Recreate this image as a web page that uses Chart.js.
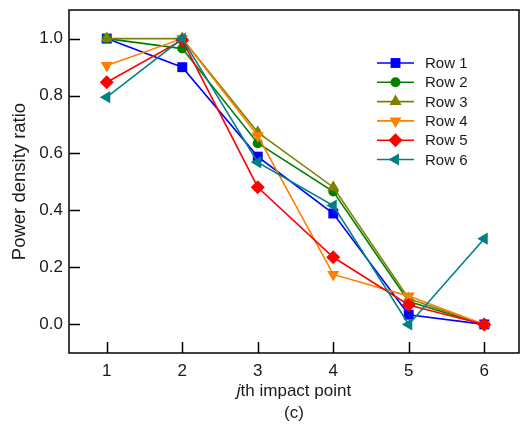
<!DOCTYPE html>
<html>
<head>
<meta charset="utf-8">
<script src="https://cdn.jsdelivr.net/npm/chart.js@4/dist/chart.umd.min.js"></script>
<style>
  html, body { margin: 0; padding: 0; background: #ffffff; }
  canvas { display: block; }
</style>
</head>
<body>
<canvas id="chart" width="521" height="434"></canvas>
<script>
// Impact point index along the x axis
const impactPoints = [1, 2, 3, 4, 5, 6];

// Power density ratio per row
const row1 = [1.000, 0.900, 0.587, 0.388, 0.034, 0.000];
const row2 = [1.000, 0.965, 0.634, 0.465, 0.080, 0.000];
const row3 = [1.000, 1.000, 0.672, 0.480, 0.090, 0.000];
const row4 = [0.906, 1.000, 0.660, 0.175, 0.099, 0.000];
const row5 = [0.847, 0.995, 0.480, 0.235, 0.068, 0.000];
const row6 = [0.795, 1.000, 0.567, 0.416, 0.000, 0.300];

const seriesNames = ['Row 1', 'Row 2', 'Row 3', 'Row 4', 'Row 5', 'Row 6'];
const seriesValues = [row1, row2, row3, row4, row5, row6];

// Tick labels
const xTickValues = [1, 2, 3, 4, 5, 6];
const yTickValues = [0.0, 0.2, 0.4, 0.6, 0.8, 1.0];

const xTitleItalic = 'j';
const xTitleRest = 'th impact point';
const yTitle = 'Power density ratio';
const panelLabel = '(c)';

// Styles
const colors = ['#0000ff', '#008000', '#808000', '#ff8000', '#ff0000', '#008080'];
const markers = [
  { style: 'rect', radius: 7, rotation: 0 },
  { style: 'circle', radius: 5, rotation: 0 },
  { style: 'triangle', radius: 7, rotation: 0 },
  { style: 'triangle', radius: 7, rotation: 180 },
  { style: 'rectRot', radius: 7, rotation: 0 },
  { style: 'triangle', radius: 7, rotation: 270 }
];

const FONT = '"Liberation Sans", Arial, Helvetica, sans-serif';
const INK = '#1a1a1a';

const datasets = seriesValues.map((vals, i) => ({
  label: seriesNames[i],
  data: impactPoints.map((x, k) => ({ x: x, y: vals[k] })),
  borderColor: colors[i],
  backgroundColor: colors[i],
  borderWidth: 1.6,
  pointStyle: markers[i].style,
  pointRadius: markers[i].radius,
  pointHoverRadius: markers[i].radius,
  pointRotation: markers[i].rotation,
  pointBorderWidth: 0,
  pointBackgroundColor: colors[i],
  tension: 0,
  fill: false,
  // later rows are painted over earlier ones
  order: seriesNames.length - i
}));

function clearScalePadding(s) {
  s.paddingLeft = 0;
  s.paddingRight = 0;
  s.paddingTop = 0;
  s.paddingBottom = 0;
}

// Frame, inward tick marks, axis titles and the legend
const decorations = {
  id: 'decorations',
  afterDatasetsDraw(chart) {
    const ctx = chart.ctx;
    const a = chart.chartArea;
    const xs = chart.scales.x;
    const ys = chart.scales.y;
    ctx.save();
    ctx.strokeStyle = '#000000';
    ctx.lineWidth = 1.5;
    ctx.strokeRect(a.left, a.top, a.right - a.left, a.bottom - a.top);

    const tickLen = 11;
    ctx.beginPath();
    xs.ticks.forEach(t => {
      const px = Math.round(xs.getPixelForValue(t.value)) + 0.5;
      ctx.moveTo(px, a.bottom);
      ctx.lineTo(px, a.bottom - tickLen);
    });
    ys.ticks.forEach(t => {
      const py = Math.round(ys.getPixelForValue(t.value)) + 0.5;
      ctx.moveTo(a.left, py);
      ctx.lineTo(a.left + tickLen, py);
    });
    ctx.stroke();

    // x title with an italic j
    ctx.fillStyle = INK;
    ctx.textBaseline = 'alphabetic';
    const italicFont = 'italic 17px ' + FONT;
    const normalFont = '17px ' + FONT;
    ctx.font = italicFont;
    const wJ = ctx.measureText(xTitleItalic).width;
    ctx.font = normalFont;
    const wRest = ctx.measureText(xTitleRest).width;
    const cx = (a.left + a.right) / 2;
    const startX = cx - (wJ + wRest) / 2;
    ctx.textAlign = 'left';
    ctx.font = italicFont;
    ctx.fillText(xTitleItalic, startX, 396);
    ctx.font = normalFont;
    ctx.fillText(xTitleRest, startX + wJ, 396);

    // panel label
    ctx.textAlign = 'center';
    ctx.fillText(panelLabel, cx, 418);

    // y title
    ctx.save();
    ctx.translate(25, (a.top + a.bottom) / 2);
    ctx.rotate(-Math.PI / 2);
    ctx.textAlign = 'center';
    ctx.font = '18.5px ' + FONT;
    ctx.fillText(yTitle, 0, 0);
    ctx.restore();

    // legend: line sample with marker, then the label
    const lx0 = 377, lx1 = 414, tx = 425, ly0 = 63, step = 19.3;
    chart.data.datasets.forEach((ds, i) => {
      const y = ly0 + i * step;
      ctx.strokeStyle = ds.borderColor;
      ctx.lineWidth = ds.borderWidth;
      ctx.beginPath();
      ctx.moveTo(lx0, y);
      ctx.lineTo(lx1, y);
      ctx.stroke();
      ctx.fillStyle = ds.backgroundColor;
      Chart.helpers.drawPoint(ctx, {
        pointStyle: ds.pointStyle,
        radius: ds.pointRadius,
        rotation: ds.pointRotation,
        borderWidth: 0
      }, (lx0 + lx1) / 2, y);
      ctx.fillStyle = INK;
      ctx.font = '15px ' + FONT;
      ctx.textAlign = 'left';
      ctx.textBaseline = 'middle';
      ctx.fillText(ds.label, tx, y + 1);
    });
    ctx.restore();
  }
};

new Chart(document.getElementById('chart'), {
  type: 'line',
  data: { datasets: datasets },
  options: {
    responsive: false,
    animation: false,
    devicePixelRatio: 1,
    layout: { autoPadding: false, padding: { top: 10, right: 2, left: 0, bottom: 0 } },
    plugins: {
      legend: { display: false },
      tooltip: { enabled: false },
      title: { display: false }
    },
    scales: {
      x: {
        type: 'linear',
        min: 0.5,
        max: 6.46,
        grid: { display: false, drawTicks: false },
        border: { display: false },
        afterBuildTicks: s => { s.ticks = xTickValues.map(v => ({ value: v })); },
        afterFit: s => { s.height = 81; clearScalePadding(s); },
        ticks: {
          color: INK,
          font: { family: FONT, size: 17 },
          padding: 8,
          maxRotation: 0,
          autoSkip: false,
          callback: v => String(v)
        }
      },
      y: {
        type: 'linear',
        min: -0.1,
        max: 1.1,
        grid: { display: false, drawTicks: false },
        border: { display: false },
        afterBuildTicks: s => { s.ticks = yTickValues.map(v => ({ value: v })); },
        afterFit: s => { s.width = 69; clearScalePadding(s); },
        ticks: {
          color: INK,
          font: { family: FONT, size: 17 },
          padding: 6,
          autoSkip: false,
          callback: v => Number(v).toFixed(1)
        }
      }
    }
  },
  plugins: [decorations]
});
</script>
</body>
</html>
